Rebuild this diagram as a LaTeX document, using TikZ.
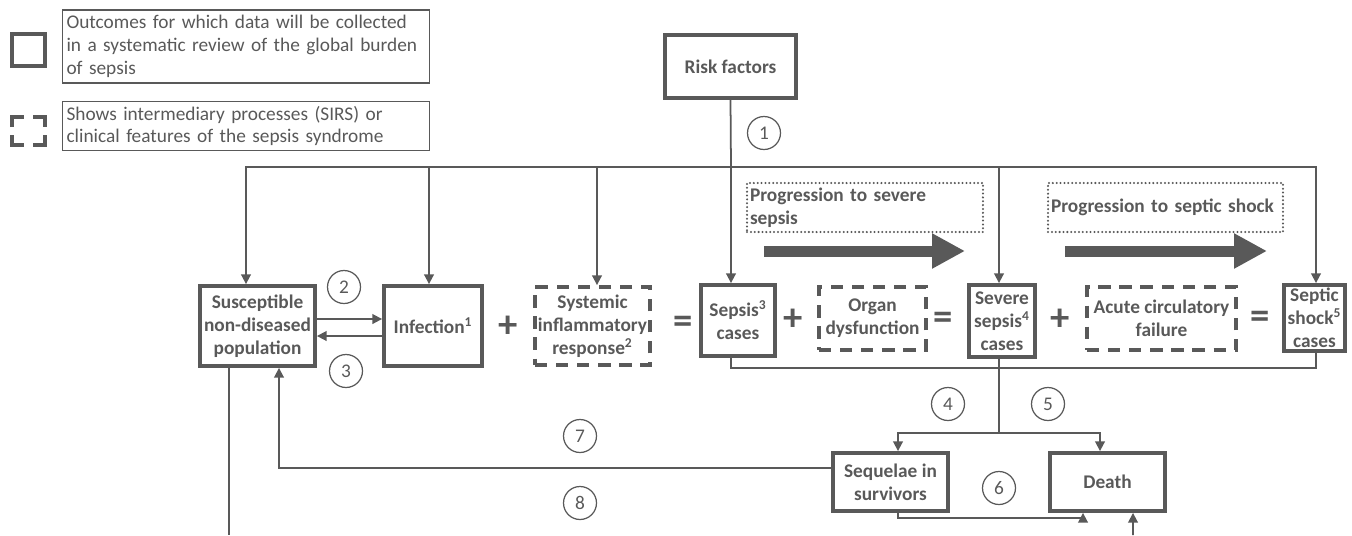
\documentclass[tikz,border=0pt]{standalone}
\usepackage{fontspec}
\setmainfont{Carlito}
\usetikzlibrary{arrows.meta,calc}
\definecolor{gris}{RGB}{89,89,89}

\begin{document}
\begin{tikzpicture}[
  x=0.02cm, y=-0.02cm,
  every node/.style={text=gris, font=\fontsize{11}{13}\selectfont},
  outbox/.style={draw=gris, line width=2.2pt, inner sep=1pt, align=center, font=\fontsize{11}{13}\selectfont\bfseries},
  procbox/.style={outbox, dash pattern=on 7pt off 5pt},
  notebox/.style={draw=gris, line width=0.6pt, inner sep=0.08cm, text width=7.18cm, align=left},
  progbox/.style={draw=gris, line width=1.3pt, line cap=round, dash pattern=on 0pt off 2.2pt, inner sep=0.06cm, align=left, font=\fontsize{11}{13}\selectfont\bfseries},
  num/.style={circle, draw=gris, line width=0.7pt, minimum size=0.66cm, inner sep=0pt},
  sign/.style={inner sep=0pt, font=\fontsize{22}{22}\selectfont\bfseries},
  icon/.style={draw=gris, line width=2.2pt},
  line/.style={draw=gris, line width=1pt},
  conn/.style={line, -{Triangle[length=5.5pt,width=5.5pt]}},
  bigarrow/.style={draw=gris, line width=0.22cm, -{Triangle[length=0.66cm,width=0.66cm]}}
]
  \useasboundingbox (0,0) rectangle (1352,535);

  % Leyenda
  \draw[icon] (12,34) rectangle (45,66);
  \draw[icon] (12,127) |- (24,117);
  \draw[icon] (33,117) -| (45,127);
  \draw[icon] (12,135) |- (24,145);
  \draw[icon] (33,145) -| (45,135);
  \node[notebox, minimum height=1.46cm] (leg1) at (246,46.5)
    {Outcomes for which data will be collected\\in a systematic review of the global burden\\of sepsis};
  \node[notebox, minimum height=0.96cm] (leg2) at (246,126)
    {Shows intermediary processes (SIRS) or\\clinical features of the sepsis syndrome};

  % Cajas
  \node[outbox, minimum width=2.62cm, minimum height=1.26cm] (risk) at (730.5,66.5) {Risk factors};
  \node[outbox, minimum width=2.30cm, minimum height=1.60cm] (susc) at (257.5,326) {Susceptible\\non-diseased\\population};
  \node[outbox, minimum width=1.96cm, minimum height=1.60cm] (inf) at (433,326) {Infection\textsuperscript{1}};
  \node[procbox, minimum width=2.30cm, minimum height=1.56cm] (sirs) at (592.5,326) {Systemic\\inflammatory\\response\textsuperscript{2}};
  \node[outbox, minimum width=1.48cm, minimum height=1.42cm] (sepsis) at (738,320.5) {Sepsis\textsuperscript{3}\\cases};
  \node[procbox, minimum width=2.14cm, minimum height=1.26cm] (organ) at (872.5,318.5) {Organ\\dysfunction};
  \node[outbox, minimum width=1.32cm, minimum height=1.44cm] (severe) at (1002,321) {Severe\\sepsis\textsuperscript{4}\\cases};
  \node[procbox, minimum width=2.98cm, minimum height=1.26cm] (acute) at (1161.5,318.5) {Acute circulatory\\failure};
  \node[outbox, minimum width=1.22cm, minimum height=1.32cm] (shock) at (1314.5,318) {Septic\\shock\textsuperscript{5}\\cases};
  \node[outbox, minimum width=2.30cm, minimum height=1.16cm] (seq) at (890.5,482) {Sequelae in\\survivors};
  \node[outbox, minimum width=2.30cm, minimum height=1.16cm] (death) at (1107.5,482) {Death};

  % Progresion
  \node[progbox, text width=4.60cm, minimum height=0.98cm] (prog1) at (865,207.5) {Progression to severe\\sepsis};
  \node[progbox, text width=4.58cm, minimum height=0.98cm] (prog2) at (1165.5,207.5) {Progression to septic shock};
  \draw[bigarrow] (764,251) -- (965,251);
  \draw[bigarrow] (1065,251) -- (1267,251);

  % Signos
  \foreach \s/\px/\py [count=\i] in {+/508/327, =/683/325, +/793/320, =/943/321, +/1060/320, =/1260/320}
    \node[sign] (op\i) at (\px,\py) {\s};

  % Numeros
  \foreach \k/\px/\py in {1/764/133, 2/344/287, 3/346/371, 4/948/404, 5/1048/404, 6/999/488, 7/580/436, 8/580/503}
    \node[num] (n\k) at (\px,\py) {\k};

  % Conexiones
  \coordinate (hub) at (731,167);
  \coordinate (bar) at (999,368);
  \coordinate (split) at (999,433);
  \coordinate (lost) at (229,535);
  \coordinate (inflow) at (1133,535);

  \draw[line] (risk.south) -- (hub);
  \foreach \n/\dx in {susc/-11.5, inf/-4, sirs/4.5, sepsis/-7, severe/-3, shock/1.5}
    \draw[conn] (hub) -| ($(\n.north)+(\dx,0)$);

  \draw[conn] ($(susc.east)+(0,-7)$) -- ($(inf.west)+(0,-7)$);
  \draw[conn] ($(inf.west)+(0,10)$) -- ($(susc.east)+(0,10)$);

  \draw[line] ($(sepsis.south)+(-7,0)$) |- (bar) -| ($(shock.south)+(1.5,0)$);
  \draw[line] ($(severe.south)+(-3,0)$) -- (split);
  \draw[conn] (split) -| ($(seq.north)+(7.5,0)$);
  \draw[conn] (split) -| ($(death.north)+(-7.5,0)$);

  \draw[conn] ($(seq.west)+(0,-14)$) -| ($(susc.south)+(21.5,0)$);
  \draw[conn] ($(seq.south)+(7.5,0)$) -- ++(0,5) -| ($(death.south)+(-24.5,0)$);
  \draw[line] ($(susc.south)+(-28.5,0)$) -- (lost);
  \draw[conn] (inflow) -- ($(death.south)+(25.5,0)$);
\end{tikzpicture}
\end{document}
